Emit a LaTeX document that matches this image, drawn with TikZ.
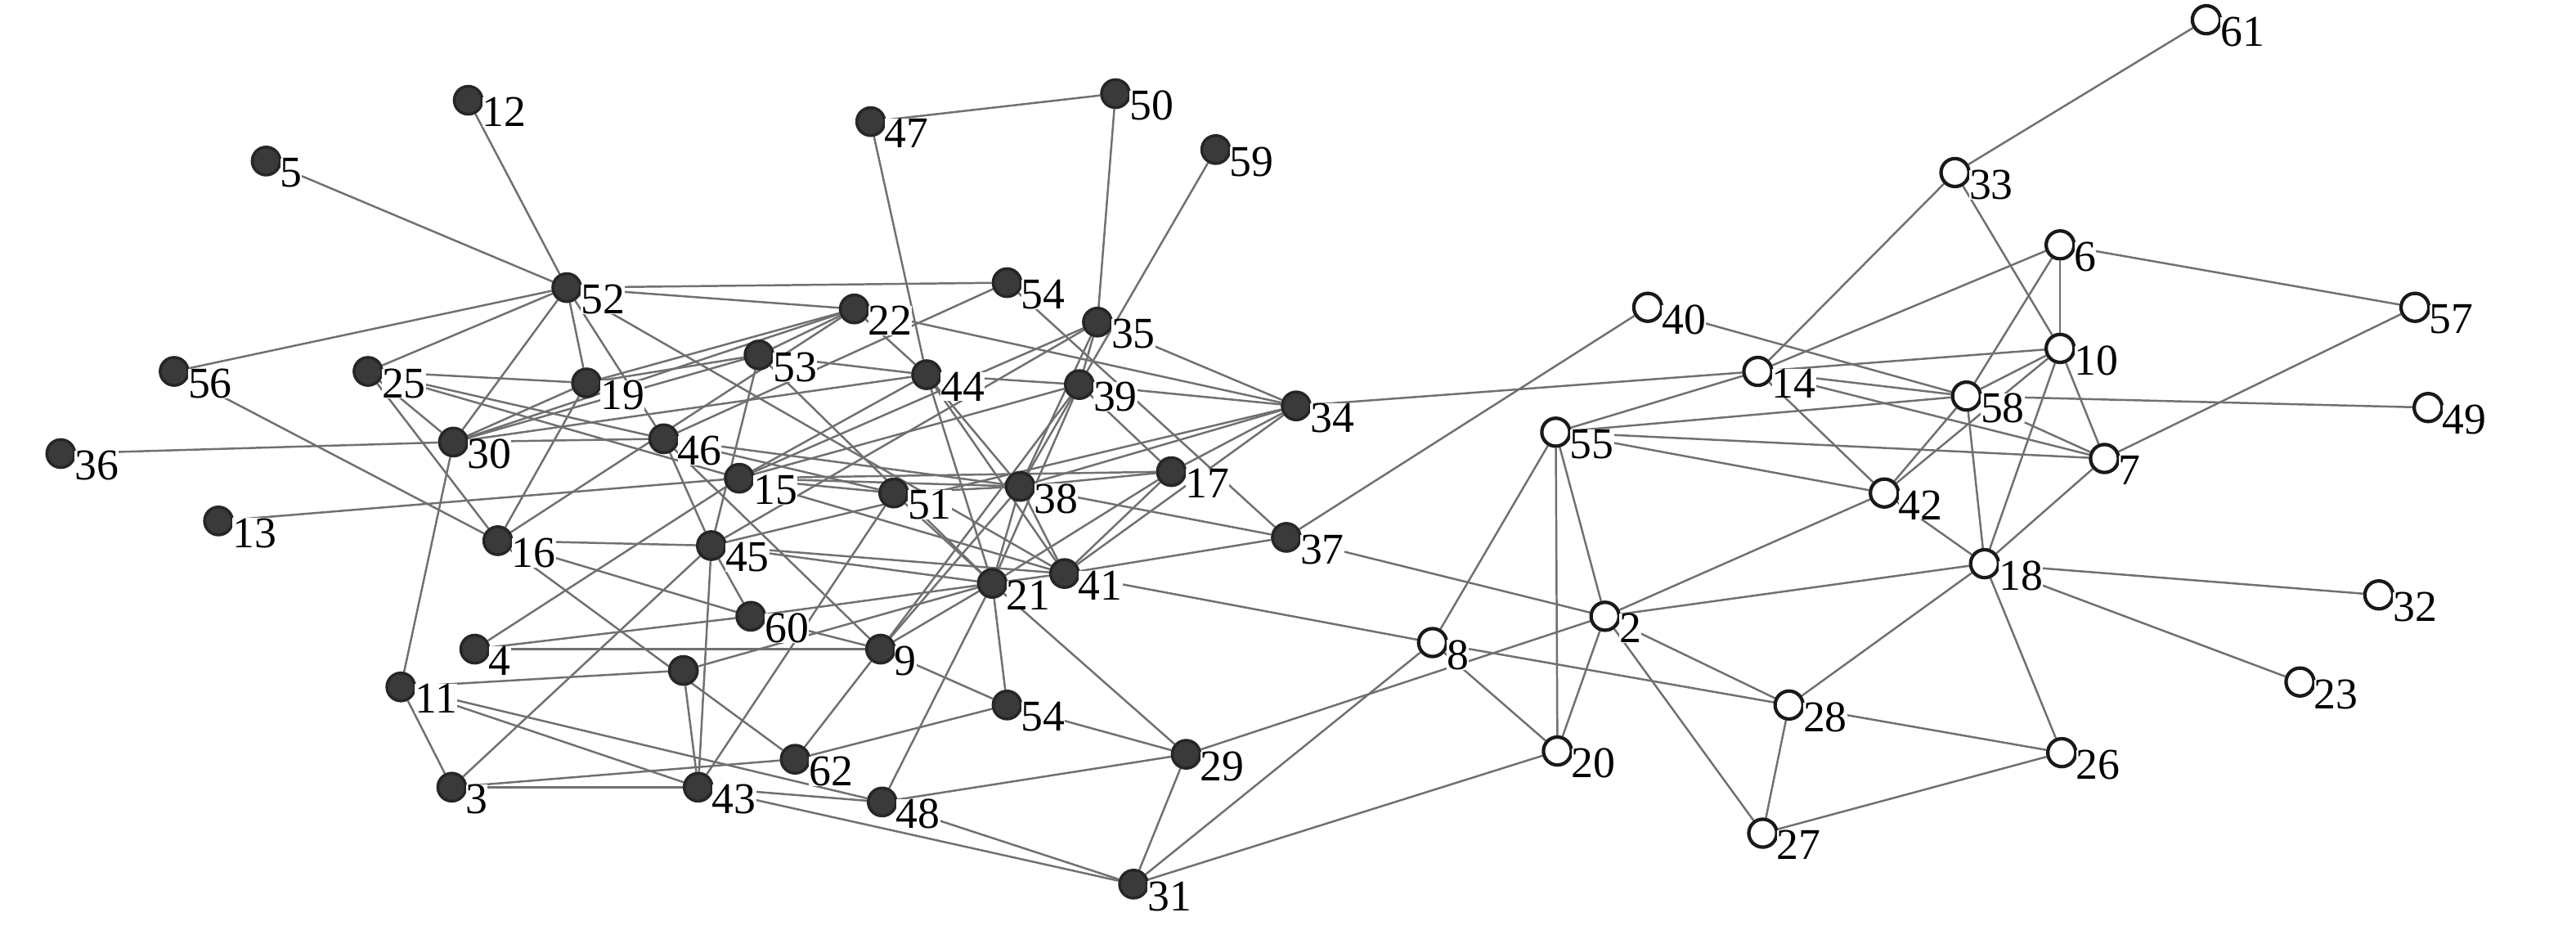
\documentclass[tikz,border=0pt]{standalone}
\usepackage{fontspec}
\setmainfont{Liberation Serif}
\usetikzlibrary{backgrounds}
\definecolor{edgegray}{RGB}{112,112,112}
\definecolor{nodedark}{RGB}{58,58,58}

\begin{document}
\begin{tikzpicture}[x=0.01cm, y=-0.01cm, every edge/.style={draw=edgegray, line width=0.35pt}]

  \tikzstyle{dark}=[circle, fill=nodedark, draw=black!85, line width=0.5pt, minimum size=0.17cm, inner sep=0pt]
  \tikzstyle{light}=[circle, fill=white, draw=black!90, line width=0.6pt, minimum size=0.17cm, inner sep=0pt]
  \tikzstyle{lbl}=[inner sep=0pt, fill=white, label distance=0pt, xshift=0.012cm, yshift=0.09cm, font=\fontsize{7.6}{8}\selectfont]

  \useasboundingbox (0,0) rectangle (1568,563);

  % dark group
  \node[dark, label={[lbl]below right:12}] (12) at (285,61) {};
  \node[dark, label={[lbl]below right:5}]  (5)  at (162,98) {};
  \node[dark, label={[lbl]below right:47}] (47) at (530,74) {};
  \node[dark, label={[lbl]below right:50}] (50) at (679,57) {};
  \node[dark, label={[lbl]below right:59}] (59) at (740,91) {};
  \node[dark, label={[lbl]below right:52}] (52) at (345,175) {};
  \node[dark, label={[lbl]below right:54}] (54) at (613,172) {};
  \node[dark, label={[lbl]below right:22}] (22) at (520,188) {};
  \node[dark, label={[lbl]below right:35}] (35) at (668,196) {};
  \node[dark, label={[lbl]below right:56}] (56) at (106,226) {};
  \node[dark, label={[lbl]below right:25}] (25) at (224,226) {};
  \node[dark, label={[lbl]below right:19}] (19) at (357,233) {};
  \node[dark, label={[lbl]below right:53}] (53) at (462,216) {};
  \node[dark, label={[lbl]below right:44}] (44) at (564,228) {};
  \node[dark, label={[lbl]below right:39}] (39) at (657,234) {};
  \node[dark, label={[lbl]below right:34}] (34) at (789,247) {};
  \node[dark, label={[lbl]below right:30}] (30) at (276,269) {};
  \node[dark, label={[lbl]below right:46}] (46) at (404,267) {};
  \node[dark, label={[lbl]below right:36}] (36) at (37,276) {};
  \node[dark, label={[lbl]below right:15}] (15) at (450,291) {};
  \node[dark, label={[lbl]below right:51}] (51) at (544,300) {};
  \node[dark, label={[lbl]below right:38}] (38) at (621,296) {};
  \node[dark, label={[lbl]below right:17}] (17) at (713,287) {};
  \node[dark, label={[lbl]below right:13}] (13) at (133,317) {};
  \node[dark, label={[lbl]below right:16}] (16) at (303,329) {};
  \node[dark, label={[lbl]below right:45}] (45) at (433,332) {};
  \node[dark, label={[lbl]below right:37}] (37) at (783,327) {};
  \node[dark, label={[lbl]below right:21}] (21) at (604,355) {};
  \node[dark, label={[lbl]below right:41}] (41) at (648,349) {};
  \node[dark, label={[lbl]below right:60}] (60) at (457,375) {};
  \node[dark, label={[lbl]below right:4}]  (4)  at (289,395) {};
  \node[dark, label={[lbl]below right:9}]  (9)  at (536,395) {};
  \node[dark] (blank) at (416,408) {};
  \node[dark, label={[lbl]below right:11}] (11) at (244,418) {};
  \node[dark, label={[lbl]below right:54}] (54b) at (613,429) {};
  \node[dark, label={[lbl]below right:62}] (62) at (484,462) {};
  \node[dark, label={[lbl]below right:29}] (29) at (722,459) {};
  \node[dark, label={[lbl]below right:3}]  (3)  at (275,479) {};
  \node[dark, label={[lbl]below right:43}] (43) at (425,479) {};
  \node[dark, label={[lbl]below right:48}] (48) at (537,488) {};
  \node[dark, label={[lbl]below right:31}] (31) at (690,538) {};

  % light group
  \node[light, label={[lbl]below right:61}] (61) at (1343,12) {};
  \node[light, label={[lbl]below right:33}] (33) at (1190,105) {};
  \node[light, label={[lbl]below right:6}]  (6)  at (1254,149) {};
  \node[light, label={[lbl]below right:57}] (57) at (1470,187) {};
  \node[light, label={[lbl]below right:40}] (40) at (1003,187) {};
  \node[light, label={[lbl]below right:10}] (10) at (1254,212) {};
  \node[light, label={[lbl]below right:14}] (14) at (1070,226) {};
  \node[light, label={[lbl]below right:58}] (58) at (1197,241) {};
  \node[light, label={[lbl]below right:49}] (49) at (1478,248) {};
  \node[light, label={[lbl]below right:55}] (55) at (947,263) {};
  \node[light, label={[lbl]below right:7}]  (7)  at (1281,279) {};
  \node[light, label={[lbl]below right:42}] (42) at (1147,300) {};
  \node[light, label={[lbl]below right:18}] (18) at (1208,343) {};
  \node[light, label={[lbl]below right:32}] (32) at (1448,362) {};
  \node[light, label={[lbl]below right:2}]  (2)  at (977,375) {};
  \node[light, label={[lbl]below right:8}]  (8)  at (872,391) {};
  \node[light, label={[lbl]below right:23}] (23) at (1400,415) {};
  \node[light, label={[lbl]below right:28}] (28) at (1089,429) {};
  \node[light, label={[lbl]below right:20}] (20) at (948,457) {};
  \node[light, label={[lbl]below right:26}] (26) at (1255,458) {};
  \node[light, label={[lbl]below right:27}] (27) at (1073,507) {};

  \begin{scope}[on background layer]
  \path (52) edge (12) edge (5) edge (56) edge (25) edge (30) edge (19)
             edge (46) edge (54) edge (22) edge (41)
        (47) edge (50) edge (44)
        (50) edge (35)
        (59) edge (39)
        (54) edge (46) edge (37)
        (22) edge (19) edge (30) edge (53) edge (44) edge (34) edge (16)
        (35) edge (34) edge (39) edge (15) edge (45) edge (38)
        (25) edge (19) edge (46) edge (15) edge (30) edge (16)
        (56) edge (16)
        (36) edge (30)
        (13) edge (15)
        (19) edge (30) edge (16) edge (53)
        (53) edge (30) edge (44) edge (45) edge (21)
        (44) edge (39) edge (30) edge (21) edge (38) edge (41) edge (15)
        (39) edge (34) edge (17) edge (15) edge (21) edge (9) edge (38)
        (30) edge (46) edge (11)
        (46) edge (9) edge (45) edge (51) edge (38)
        (15) edge (17) edge (51) edge (38) edge (41) edge (4)
        (51) edge (38) edge (43) edge (21)
        (38) edge (17) edge (37) edge (41) edge (21) edge (9) edge (34)
        (17) edge (34) edge (41) edge (21)
        (16) edge (45) edge (60) edge (62)
        (45) edge (60) edge (43) edge (3) edge (21) edge (41) edge (34)
        (37) edge (41) edge (40) edge (2)
        (21) edge (41) edge (9) edge (60) edge (blank) edge (54b) edge (48) edge (29)
        (41) edge (8) edge (34)
        (60) edge (4) edge (9)
        (4) edge (9)
        (9) edge (54b) edge (62)
        (blank) edge (11) edge (43)
        (11) edge (3) edge (43) edge (48)
        (54b) edge (62) edge (29)
        (62) edge (3)
        (3) edge (43)
        (43) edge (48) edge (31)
        (48) edge (29) edge (31)
        (29) edge (31) edge (2)
        (31) edge (8) edge (20)

        (61) edge (33)
        (33) edge (14) edge (10)
        (6) edge (10) edge (57) edge (14) edge (58)
        (10) edge (14) edge (58) edge (7) edge (18) edge (42)
        (14) edge (34) edge (55) edge (58) edge (7) edge (42)
        (40) edge (58)
        (55) edge (58) edge (7) edge (42) edge (20) edge (2) edge (8)
        (58) edge (49) edge (7) edge (18) edge (42)
        (7) edge (57) edge (18)
        (42) edge (18) edge (2)
        (18) edge (32) edge (23) edge (26) edge (28) edge (2)
        (28) edge (26) edge (27) edge (2) edge (8)
        (26) edge (27)
        (2) edge (27) edge (20)
        (8) edge (20)
  ;
  \end{scope}
\end{tikzpicture}
\end{document}
